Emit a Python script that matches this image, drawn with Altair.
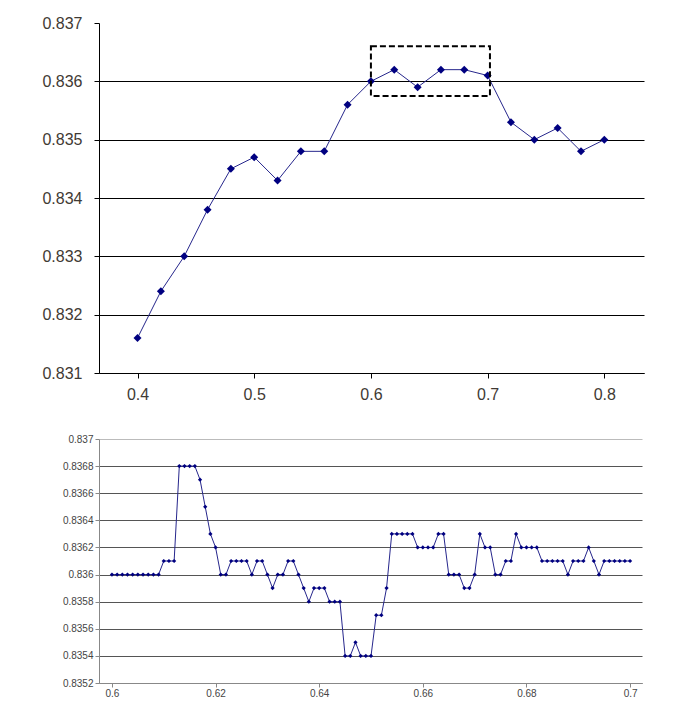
import altair as alt
import pandas as pd

# ---------------- data ----------------
top_x = [0.40, 0.42, 0.44, 0.46, 0.48, 0.50, 0.52, 0.54, 0.56, 0.58, 0.60,
         0.62, 0.64, 0.66, 0.68, 0.70, 0.72, 0.74, 0.76, 0.78, 0.80]
top_y = [0.8316, 0.8324, 0.8330, 0.8338, 0.8345, 0.8347, 0.8343, 0.8348, 0.8348, 0.8356, 0.8360,
         0.8362, 0.8359, 0.8362, 0.8362, 0.8361, 0.8353, 0.8350, 0.8352, 0.8348, 0.8350]

zoom_x = [0.600, 0.601, 0.602, 0.603, 0.604, 0.605, 0.606, 0.607, 0.608, 0.609,
          0.610, 0.611, 0.612, 0.613, 0.614, 0.615, 0.616, 0.617, 0.618, 0.619,
          0.620, 0.621, 0.622, 0.623, 0.624, 0.625, 0.626, 0.627, 0.628, 0.629,
          0.630, 0.631, 0.632, 0.633, 0.634, 0.635, 0.636, 0.637, 0.638, 0.639,
          0.640, 0.641, 0.642, 0.643, 0.644, 0.645, 0.646, 0.647, 0.648, 0.649,
          0.650, 0.651, 0.652, 0.653, 0.654, 0.655, 0.656, 0.657, 0.658, 0.659,
          0.660, 0.661, 0.662, 0.663, 0.664, 0.665, 0.666, 0.667, 0.668, 0.669,
          0.670, 0.671, 0.672, 0.673, 0.674, 0.675, 0.676, 0.677, 0.678, 0.679,
          0.680, 0.681, 0.682, 0.683, 0.684, 0.685, 0.686, 0.687, 0.688, 0.689,
          0.690, 0.691, 0.692, 0.693, 0.694, 0.695, 0.696, 0.697, 0.698, 0.699,
          0.700]
zoom_y = [0.8360, 0.8360, 0.8360, 0.8360, 0.8360, 0.8360, 0.8360, 0.8360, 0.8360, 0.8360,
          0.8361, 0.8361, 0.8361, 0.8368, 0.8368, 0.8368, 0.8368, 0.8367, 0.8365, 0.8363,
          0.8362, 0.8360, 0.8360, 0.8361, 0.8361, 0.8361, 0.8361, 0.8360, 0.8361, 0.8361,
          0.8360, 0.8359, 0.8360, 0.8360, 0.8361, 0.8361, 0.8360, 0.8359, 0.8358, 0.8359,
          0.8359, 0.8359, 0.8358, 0.8358, 0.8358, 0.8354, 0.8354, 0.8355, 0.8354, 0.8354,
          0.8354, 0.8357, 0.8357, 0.8359, 0.8363, 0.8363, 0.8363, 0.8363, 0.8363, 0.8362,
          0.8362, 0.8362, 0.8362, 0.8363, 0.8363, 0.8360, 0.8360, 0.8360, 0.8359, 0.8359,
          0.8360, 0.8363, 0.8362, 0.8362, 0.8360, 0.8360, 0.8361, 0.8361, 0.8363, 0.8362,
          0.8362, 0.8362, 0.8362, 0.8361, 0.8361, 0.8361, 0.8361, 0.8361, 0.8360, 0.8361,
          0.8361, 0.8361, 0.8362, 0.8361, 0.8360, 0.8361, 0.8361, 0.8361, 0.8361, 0.8361,
          0.8361]

box_x = [0.600, 0.702]
box_y = [0.83575, 0.83660]

top_x_ticks = [0.4, 0.5, 0.6, 0.7, 0.8]
top_y_ticks = [0.831, 0.832, 0.833, 0.834, 0.835, 0.836, 0.837]
zoom_x_ticks = [0.6, 0.62, 0.64, 0.66, 0.68, 0.7]
zoom_y_ticks = [0.8352, 0.8354, 0.8356, 0.8358, 0.836, 0.8362, 0.8364, 0.8366, 0.8368, 0.837]

top_df = pd.DataFrame({"x": top_x, "y": top_y})
zoom_df = pd.DataFrame({"x": zoom_x, "y": zoom_y})
box_df = pd.DataFrame({"x": [box_x[0]], "x2": [box_x[1]], "y": [box_y[0]], "y2": [box_y[1]]})

LINE = "#26268c"
MARK = "#000080"
FONT = "Liberation Sans"
TOP_LABEL = "#3f3a34"

# ---------------- top chart ----------------
top_xaxis = alt.Axis(values=top_x_ticks, format=".1f", grid=False, title=None,
                     domainColor="black", tickColor="black", tickSize=5,
                     labelPadding=8, labelFontSize=16, labelColor=TOP_LABEL, labelFont=FONT,
                     minExtent=29, maxExtent=29)
top_yaxis = alt.Axis(values=top_y_ticks, format=".3f", grid=True, title=None,
                     gridColor="black",
                     gridOpacity={"condition": {"test": "datum.value > 0.8369", "value": 0}, "value": 1},
                     domainColor="black", tickColor="black", tickSize=5,
                     labelPadding=12, labelFontSize=16, labelColor=TOP_LABEL, labelFont=FONT,
                     minExtent=86, maxExtent=86)

top_xscale = alt.Scale(domain=[0.367, 0.834], nice=False, zero=False)
top_yscale = alt.Scale(domain=[0.831, 0.837], nice=False, zero=False)

top_base = alt.Chart(top_df).encode(
    x=alt.X("x:Q", scale=top_xscale, axis=top_xaxis),
    y=alt.Y("y:Q", scale=top_yscale, axis=top_yaxis),
)
top_line = top_base.mark_line(color=LINE, strokeWidth=1)
top_pts = top_base.mark_point(shape="diamond", filled=True, size=64, color=MARK, opacity=1)
top_box = alt.Chart(box_df).mark_rect(fillOpacity=0, stroke="black", strokeWidth=2,
                                      strokeDash=[6, 3]).encode(
    x=alt.X("x:Q", title=None), x2="x2", y=alt.Y("y:Q", title=None), y2="y2")

top = alt.layer(top_line, top_pts, top_box).properties(width=545, height=350)

# ---------------- zoom chart ----------------
zoom_xaxis = alt.Axis(values=zoom_x_ticks, format="~g", grid=False, title=None,
                      domainColor="#888888", tickColor="#888888", tickSize=4,
                      labelPadding=1, labelFontSize=10, labelColor="#444444", labelFont=FONT)
zoom_yaxis = alt.Axis(values=zoom_y_ticks, format=".4~f", grid=True, title=None,
                      gridColor={"condition": {"test": "datum.value > 0.83699", "value": "#bbbbbb"},
                                 "value": "#555555"},
                      domainColor="#888888", tickColor="#888888", tickSize=4,
                      labelPadding=2, labelFontSize=10, labelColor="#444444", labelFont=FONT,
                      minExtent=86, maxExtent=86)

zoom_base = alt.Chart(zoom_df).encode(
    x=alt.X("x:Q", scale=alt.Scale(domain=[0.5975, 0.7023], nice=False, zero=False), axis=zoom_xaxis),
    y=alt.Y("y:Q", scale=alt.Scale(domain=[0.8352, 0.837], nice=False, zero=False), axis=zoom_yaxis),
)
zoom_line = zoom_base.mark_line(color=LINE, strokeWidth=1)
zoom_pts = zoom_base.mark_point(shape="diamond", filled=True, size=18, color=MARK, opacity=1)

bottom = alt.layer(zoom_line, zoom_pts).properties(width=543, height=244)

chart = alt.vconcat(top, bottom, spacing=32).properties(
    padding={"left": 5, "top": 7, "right": 5, "bottom": 5}
).configure_view(stroke=None)

chart.save("out.html", embed_options={"renderer": "svg", "actions": False})
